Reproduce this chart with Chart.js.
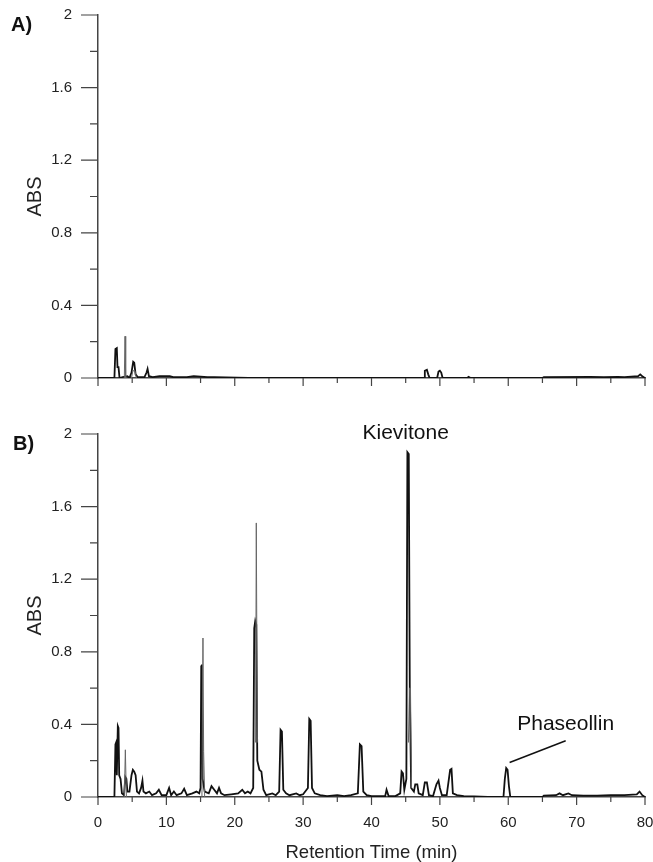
<!DOCTYPE html>
<html>
<head>
<meta charset="utf-8">
<script src="https://cdn.jsdelivr.net/npm/chart.js@4.4.1/dist/chart.umd.min.js"></script>
<style>
  body { margin: 0; background: #fff; }
  .panel { position: absolute; left: 0; width: 653px; }
  #wrapA { top: 0; height: 400px; }
  #wrapB { top: 400px; height: 462px; }
</style>
</head>
<body>
<div class="panel" id="wrapA"><canvas id="chartA" width="653" height="400"></canvas></div>
<div class="panel" id="wrapB"><canvas id="chartB" width="653" height="462"></canvas></div>
<script>
// Panel A (control) - retention time (min) and absorbance
const timeA = [0, 2.4, 2.55, 2.75, 2.85, 3.0, 3.15, 3.6, 4.3, 4.6, 4.9, 5.15, 5.3, 5.5, 5.8, 6.8, 7.1, 7.25, 7.45, 8, 9, 10.5, 11, 13, 14, 15, 16, 17, 22,
  45, 47.7, 47.8, 48.1, 48.3, 48.5, 49.6, 49.8, 50.0, 50.2, 50.4, 54, 54.2, 54.5, 65, 65.2, 72, 74, 76, 77, 79, 79.3, 79.6, 80];
const absA = [0, 0, 0.16, 0.165, 0.06, 0.06, 0, 0.005, 0.01, 0, 0.03, 0.09, 0.085, 0.02, 0.005, 0.005, 0.03, 0.05, 0.01, 0.005, 0.01, 0.01, 0.005, 0.005, 0.01, 0.008, 0.005, 0.004, 0,
  0, 0, 0.04, 0.045, 0.02, 0, 0, 0.035, 0.04, 0.03, 0, 0, 0.006, 0, 0, 0.005, 0.006, 0.005, 0.006, 0.005, 0.01, 0.02, 0.01, 0];
// thin grey trace, panel A
const timeA2 = [3.85, 3.95, 4.05, 4.1, 4.9, 5.1, 5.4, 5.6];
const absA2 = [0, 0.23, 0, null, 0, 0.04, 0.04, 0];

// Panel B (elicited)
const timeB = [0, 2.4, 2.55, 2.65, 2.75, 2.9, 3.0, 3.1, 3.3, 3.5, 3.8, 4.0, 4.15, 4.3, 4.6, 4.9, 5.1, 5.3, 5.5, 5.7, 6.0, 6.3, 6.5, 6.65, 7.0, 7.5, 7.9,
  8.5, 8.9, 9.3, 10.0, 10.4, 10.7, 11.1, 11.5, 12.2, 12.6, 13, 13.8, 14.4, 14.8, 15.0, 15.1, 15.2, 15.3, 15.6, 16.2, 16.6, 17.0, 17.4, 17.7, 18.0, 18.5,
  19.5, 20.5, 21.1, 21.5, 21.9, 22.3, 22.7, 22.85, 23.0, 23.15, 23.3, 23.6, 23.9, 24.2, 24.6, 25.5, 26.0, 26.5, 26.7, 26.9, 27.1, 27.5, 28, 29, 29.5,
  30, 30.7, 30.9, 31.1, 31.3, 31.7, 32.5, 33.5, 35, 36, 37, 38.0, 38.3, 38.55, 38.8, 39.3, 40, 42, 42.2, 42.5, 43.5, 44.2, 44.4, 44.6, 44.8, 45.1,
  45.25, 45.45, 45.6, 45.8, 46.2, 46.4, 46.7, 46.9, 47.5, 47.8, 48.1, 48.4, 49.0, 49.5, 49.8, 50.0, 50.3, 51.0, 51.5, 51.7, 51.9, 52.5, 53.5, 55, 57,
  59.3, 59.5, 59.7, 59.9, 60.1, 60.3, 65, 65.2, 67, 67.5, 68, 68.8, 69.3, 71, 73, 75, 77, 78.8, 79.2, 79.6, 80];
const absB = [0, 0, 0.29, 0.30, 0.12, 0.39, 0.38, 0.12, 0.1, 0.02, 0.01, 0.11, 0.10, 0.03, 0.03, 0.12, 0.15, 0.14, 0.12, 0.03, 0.02, 0.05, 0.09, 0.03, 0.02, 0.03, 0.01,
  0.02, 0.04, 0.01, 0.01, 0.05, 0.01, 0.03, 0.01, 0.02, 0.045, 0.01, 0.02, 0.03, 0.02, 0.05, 0.72, 0.73, 0.1, 0.03, 0.02, 0.06, 0.04, 0.02, 0.05, 0.02, 0.01,
  0.015, 0.02, 0.04, 0.02, 0.03, 0.02, 0.05, 0.93, 0.97, 0.95, 0.2, 0.15, 0.14, 0.04, 0.01, 0.02, 0.01, 0.03, 0.37, 0.36, 0.04, 0.02, 0.01, 0.02, 0.01,
  0.015, 0.05, 0.43, 0.42, 0.05, 0.02, 0.01, 0.005, 0.01, 0.005, 0.01, 0.02, 0.29, 0.28, 0.03, 0.01, 0.005, 0.005, 0.04, 0.005, 0.005, 0.02, 0.14, 0.13, 0.04, 0.1,
  1.9, 1.89, 0.6, 0.05, 0.03, 0.07, 0.07, 0.02, 0.01, 0.08, 0.08, 0.01, 0.005, 0.07, 0.09, 0.05, 0.01, 0.01, 0.15, 0.155, 0.02, 0.01, 0.005, 0.003, 0,
  0, 0.1, 0.16, 0.15, 0.06, 0, 0, 0.008, 0.01, 0.02, 0.01, 0.02, 0.01, 0.008, 0.008, 0.01, 0.01, 0.015, 0.03, 0.01, 0];
// thin grey trace, panel B
const timeB2 = [3.85, 4.0, 4.15, 4.2, 15.2, 15.35, 15.45, 15.6, 15.7, 23.05, 23.15, 23.3, 23.4, 45.4, 45.55, 45.7, 45.85];
const absB2 = [0, 0.26, 0, null, 0, 0.876, 0.25, 0, null, 0.3, 1.51, 0.3, null, 0.3, 0.6, 0.6, 0.05];

// axes
const xMajorTicks = [0, 10, 20, 30, 40, 50, 60, 70, 80];
const xMinorTicks = [5, 15, 25, 35, 45, 55, 65, 75];
const yMajorTicks = [0, 0.4, 0.8, 1.2, 1.6, 2];
const yMinorTicks = [0.2, 0.6, 1.0, 1.4, 1.8];

// peak labels
const peakLabels = ['Kievitone', 'Phaseollin'];
const peakLabelX = [45.0, 68.4];
const peakLabelY = [2.005, 0.40];
const leaderX = [60.2, 68.4];
const leaderY = [0.19, 0.31];

const FONT = "'Liberation Sans', Arial, sans-serif";
const AXIS = '#444';

function pts(t, a) {
    return t.map((v, i) => ({x: v, y: a[i]}));
}

const ticksPlugin = {
    id: 'ticks',
    afterDraw(chart) {
        const ctx = chart.ctx;
        const xs = chart.scales.x, ys = chart.scales.y;
        const ca = chart.chartArea;
        ctx.save();
        ctx.strokeStyle = AXIS;
        ctx.lineWidth = 1.2;
        ctx.beginPath();
        yMajorTicks.forEach(v => { let p = ys.getPixelForValue(v); ctx.moveTo(ca.left - 17, p); ctx.lineTo(ca.left, p); });
        yMinorTicks.forEach(v => { let p = ys.getPixelForValue(v); ctx.moveTo(ca.left - 8, p); ctx.lineTo(ca.left, p); });
        xMajorTicks.forEach(v => { let p = xs.getPixelForValue(v); ctx.moveTo(p, ca.bottom); ctx.lineTo(p, ca.bottom + 8); });
        xMinorTicks.forEach(v => { let p = xs.getPixelForValue(v); ctx.moveTo(p, ca.bottom); ctx.lineTo(p, ca.bottom + 5); });
        ctx.stroke();
        // panel letter
        const o = chart.options.plugins.ticks;
        ctx.fillStyle = '#111';
        ctx.font = 'bold 20px ' + FONT;
        ctx.textBaseline = 'middle';
        ctx.fillText(o.letter, o.lx, o.ly);
        if (o.labels) {
            ctx.font = '21px ' + FONT;
            ctx.textAlign = 'center';
            peakLabels.forEach((s, i) => {
                ctx.fillText(s, xs.getPixelForValue(peakLabelX[i]), ys.getPixelForValue(peakLabelY[i]));
            });
            ctx.strokeStyle = '#111';
            ctx.lineWidth = 1.5;
            ctx.beginPath();
            ctx.moveTo(xs.getPixelForValue(leaderX[0]), ys.getPixelForValue(leaderY[0]));
            ctx.lineTo(xs.getPixelForValue(leaderX[1]), ys.getPixelForValue(leaderY[1]));
            ctx.stroke();
        }
        ctx.restore();
    }
};

function makeChart(id, black, grey, opt) {
    return new Chart(document.getElementById(id), {
        type: 'line',
        data: {
            datasets: [
                {data: grey, borderColor: '#666', borderWidth: 1, pointRadius: 0, tension: 0, spanGaps: false},
                {data: black, borderColor: '#111', borderWidth: 1.8, pointRadius: 0, tension: 0}
            ]
        },
        plugins: [ticksPlugin],
        options: {
            responsive: false,
            animation: false,
            layout: {padding: {top: opt.top, right: 8, left: 0, bottom: 0}},
            plugins: {
                legend: {display: false},
                tooltip: {enabled: false},
                ticks: {letter: opt.letter, lx: opt.lx, ly: opt.ly, labels: opt.labels}
            },
            scales: {
                x: {
                    type: 'linear', min: 0, max: 80,
                    grid: {display: false, drawTicks: false},
                    border: {display: true, color: AXIS, width: 1.5},
                    ticks: {display: opt.xLabels, stepSize: 10, padding: 17, color: '#222',
                        font: {family: FONT, size: 15}, maxRotation: 0},
                    title: {display: opt.xLabels, text: 'Retention Time (min)', color: '#222',
                        font: {family: FONT, size: 18.5, lineHeight: 1.0}, padding: 0},
                    afterFit(s) { s.height = opt.xh; s.paddingLeft = 0; s.paddingRight = 0; }
                },
                y: {
                    min: 0, max: 2,
                    grid: {display: false, drawTicks: false},
                    border: {display: true, color: AXIS, width: 1.5},
                    ticks: {stepSize: 0.4, padding: 26, color: '#222', font: {family: FONT, size: 15},
                        callback: v => String(Math.round(v * 10) / 10)},
                    title: {display: true, text: 'ABS', color: '#222', font: {family: FONT, size: 20},
                        padding: {top: 23, bottom: 0}},
                    afterFit(s) { s.width = 98; s.paddingTop = 0; s.paddingBottom = 0; }
                }
            }
        }
    });
}

makeChart('chartA', pts(timeA, absA), pts(timeA2, absA2),
    {top: 15, xh: 22, xLabels: false, letter: 'A)', lx: 11, ly: 25, labels: false});
makeChart('chartB', pts(timeB, absB), pts(timeB2, absB2),
    {top: 34, xh: 65, xLabels: true, letter: 'B)', lx: 13, ly: 44, labels: true});
</script>
</body>
</html>
